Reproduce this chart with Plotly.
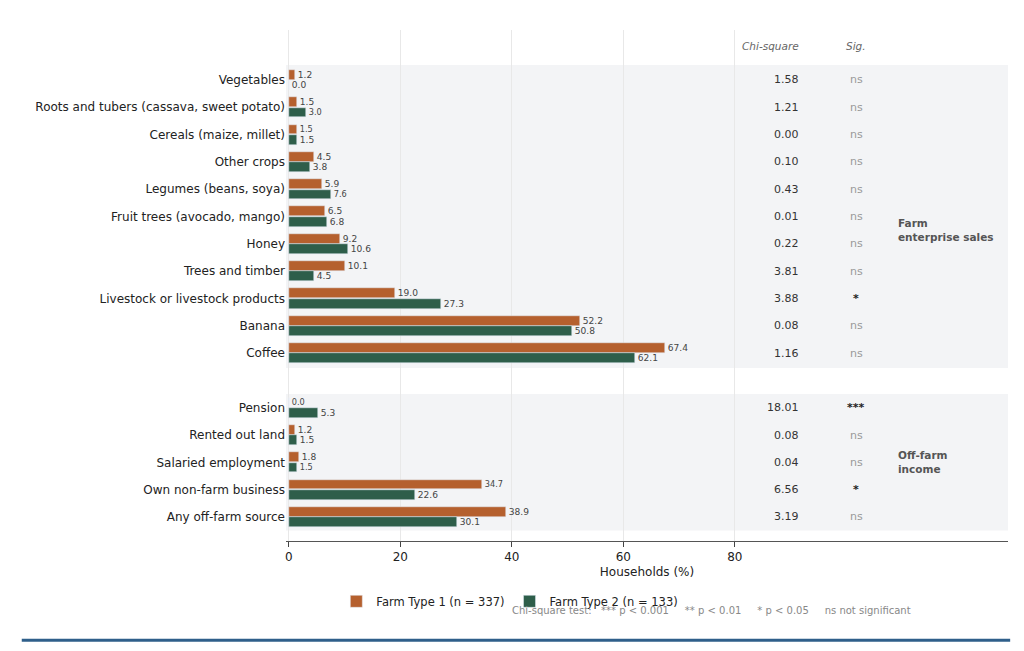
import plotly.graph_objects as go

cats = ["Vegetables","Roots and tubers (cassava, sweet potato)","Cereals (maize, millet)","Other crops",
        "Legumes (beans, soya)","Fruit trees (avocado, mango)","Honey","Trees and timber",
        "Livestock or livestock products","Banana","Coffee",
        "Pension","Rented out land","Salaried employment","Own non-farm business","Any off-farm source"]
pos = [0,1,2,3,4,5,6,7,8,9,10,12,13,14,15,16]
type1 = [1.2,1.5,1.5,4.5,5.9,6.5,9.2,10.1,19.0,52.2,67.4,0.0,1.2,1.8,34.7,38.9]
type2 = [0.0,3.0,1.5,3.8,7.6,6.8,10.6,4.5,27.3,50.8,62.1,5.3,1.5,1.5,22.6,30.1]
chi = ["1.58","1.21","0.00","0.10","0.43","0.01","0.22","3.81","3.88","0.08","1.16",
       "18.01","0.08","0.04","6.56","3.19"]
sig = ["ns","ns","ns","ns","ns","ns","ns","ns","*","ns","ns","***","ns","ns","*","ns"]

C1, C2 = "#b5602e", "#2e5e4a"
fig = go.Figure()
fig.add_trace(go.Bar(y=[p-0.19 for p in pos], x=type1, orientation="h", width=0.36,
    marker_color=C1, name="Farm Type 1 (n = 337)", text=[f"{v:.1f}" for v in type1],
    textposition="outside", textfont=dict(size=10, color="#444"), cliponaxis=False))
fig.add_trace(go.Bar(y=[p+0.19 for p in pos], x=type2, orientation="h", width=0.36,
    marker_color=C2, name="Farm Type 2 (n = 133)", text=[f"{v:.1f}" for v in type2],
    textposition="outside", textfont=dict(size=10, color="#444"), cliponaxis=False))

shapes = [
    dict(type="rect", xref="x", yref="y", x0=-0.5, x1=129, y0=-0.55, y1=10.55,
         fillcolor="#f3f4f6", line_width=0, layer="below"),
    dict(type="rect", xref="x", yref="y", x0=-0.5, x1=129, y0=11.5, y1=16.5,
         fillcolor="#f3f4f6", line_width=0, layer="below"),
    dict(type="line", xref="paper", yref="paper", x0=-0.366, x1=1.003, y0=-0.194, y1=-0.194,
         line=dict(color="#2f5f8a", width=3)),
]
ann = []
for p, c, s in zip(pos, chi, sig):
    ann.append(dict(x=91.8, y=p, text=c, showarrow=False, xanchor="right", font=dict(size=11, color="#333")))
    ann.append(dict(x=101.8, y=p, text=f"<b>{s}</b>" if s != "ns" else s, showarrow=False,
                    font=dict(size=11, color="#222" if s != "ns" else "#999")))
ann += [
    dict(x=91.8, y=-1.25, text="<i>Chi-square</i>", showarrow=False, xanchor="right", font=dict(size=10.5, color="#666")),
    dict(x=101.8, y=-1.25, text="<i>Sig.</i>", showarrow=False, font=dict(size=10.5, color="#666")),
    dict(x=109, y=5.5, text="<b>Farm<br>enterprise sales</b>", showarrow=False, xanchor="left", align="left", font=dict(size=10.5, color="#555")),
    dict(x=109, y=14, text="<b>Off-farm<br>income</b>", showarrow=False, xanchor="left", align="left", font=dict(size=10.5, color="#555")),
    dict(x=0.31, y=-0.151, xref="paper", yref="paper", text="Chi-square test:   *** p < 0.001     ** p < 0.01     * p < 0.05     ns not significant",
         showarrow=False, font=dict(size=10, color="#888")),
]
fig.update_layout(
    width=1024, height=651, paper_bgcolor="white", plot_bgcolor="white",
    font=dict(family="DejaVu Sans", size=12, color="#222"),
    margin=dict(l=278, r=24, t=22, b=118), barmode="overlay",
    shapes=shapes, annotations=ann, bargap=0,
    legend=dict(orientation="h", x=0.31, xanchor="center", y=-0.118, yanchor="middle", font=dict(size=11.5)),
    xaxis=dict(range=[-0.5, 129], tickvals=[0,20,40,60,80], showgrid=True, gridcolor="#e8e8e8",
               zeroline=False, showline=True, linecolor="#555", ticks="outside", ticklen=5,
               title=dict(text="Households (%)", font=dict(size=12), standoff=4)),
    yaxis=dict(range=[16.88, -1.83], tickvals=pos, ticktext=cats, showgrid=False, zeroline=False,
               tickfont=dict(size=12)),
)
fig.write_html("out.html")
